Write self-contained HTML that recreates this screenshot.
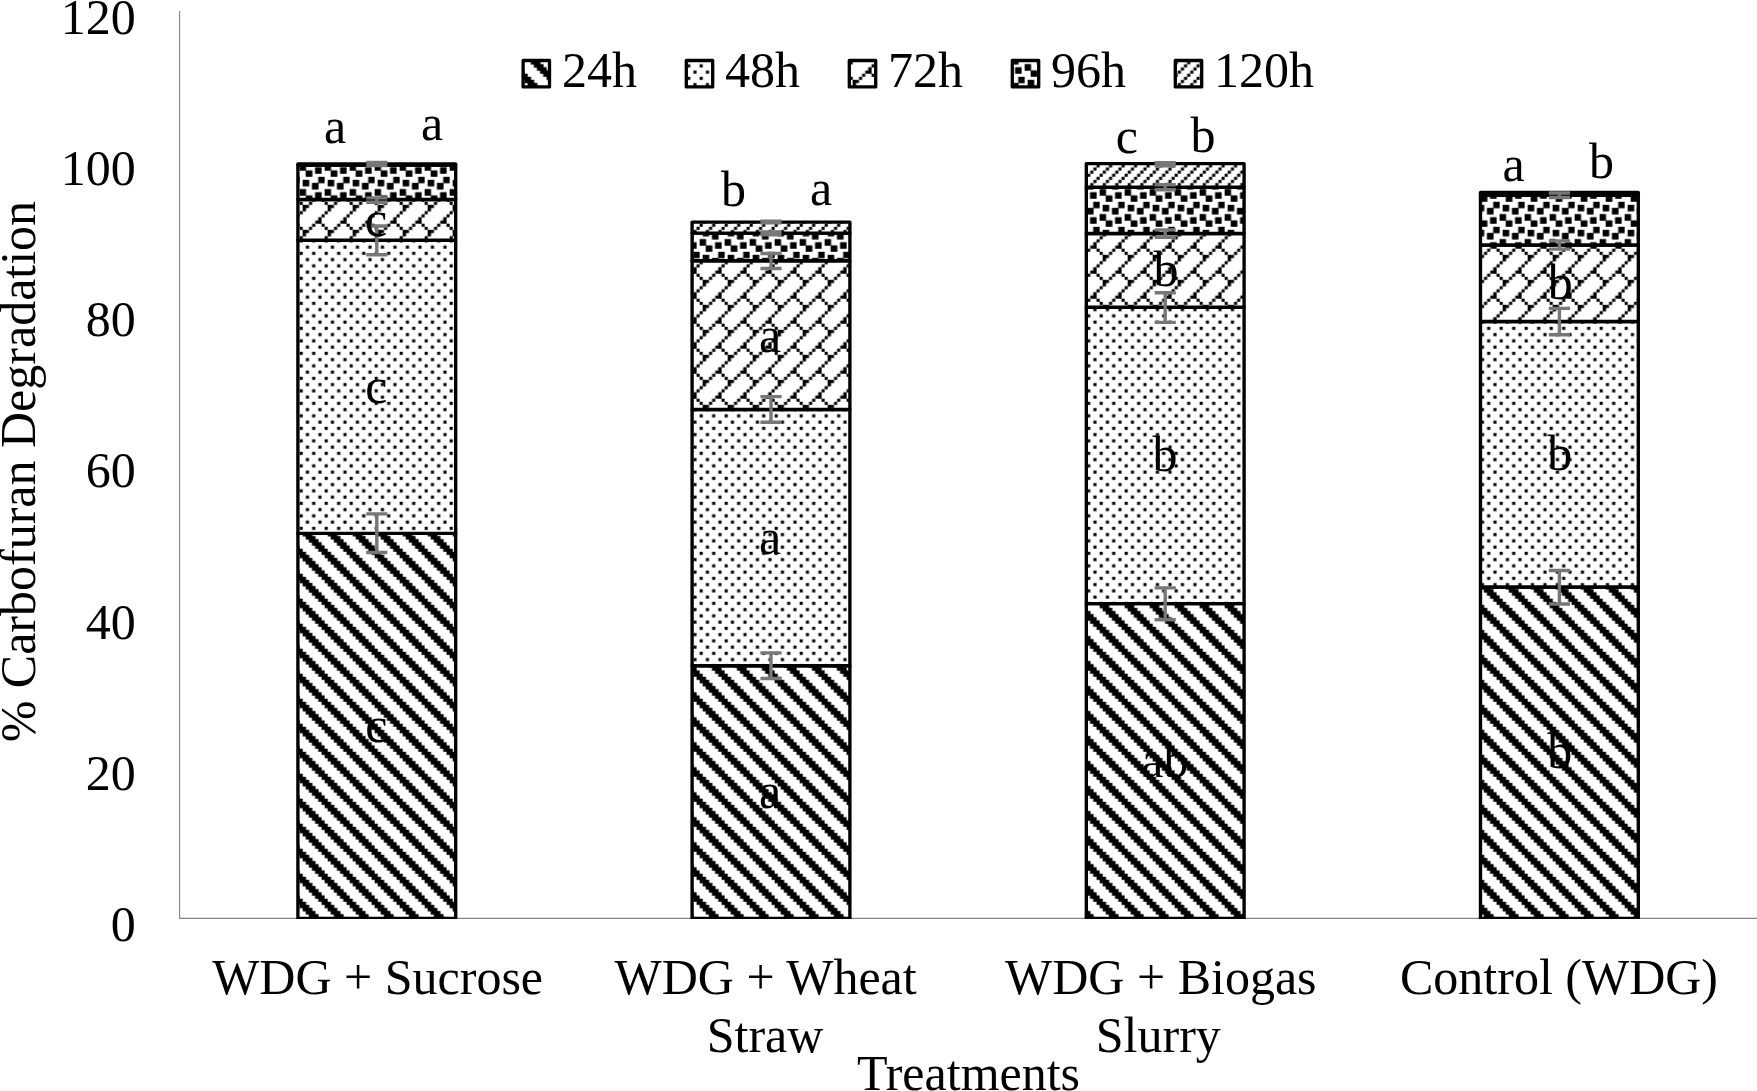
<!DOCTYPE html>
<html><head><meta charset="utf-8"><title>Carbofuran Degradation</title>
<style>html,body{margin:0;padding:0;background:#fff}body{width:1757px;height:1091px;overflow:hidden}svg{display:block}text{font-family:"Liberation Serif",serif;font-size:50px;fill:#000}</style>
</head><body>
<svg width="1757" height="1091" viewBox="0 0 1757 1091">
<defs>
<pattern id="p24" patternUnits="userSpaceOnUse" x="-0.35" y="1.8" width="25" height="25"><rect width="25" height="25" fill="#fff"/><g fill="#000"><rect x="0" y="0" width="6.25" height="3.125"/><rect x="21.875" y="0" width="3.125" height="3.125"/><rect x="0" y="3.125" width="9.375" height="3.125"/><rect x="3.125" y="6.25" width="9.375" height="3.125"/><rect x="6.25" y="9.375" width="9.375" height="3.125"/><rect x="9.375" y="12.5" width="9.375" height="3.125"/><rect x="12.5" y="15.625" width="9.375" height="3.125"/><rect x="15.625" y="18.75" width="9.375" height="3.125"/><rect x="0" y="21.875" width="3.125" height="3.125"/><rect x="18.75" y="21.875" width="6.25" height="3.125"/><rect x="0" y="0" width="3.125" height="6.25"/><rect x="3.125" y="0" width="3.125" height="9.375"/><rect x="6.25" y="3.125" width="3.125" height="9.375"/><rect x="9.375" y="6.25" width="3.125" height="9.375"/><rect x="12.5" y="9.375" width="3.125" height="9.375"/><rect x="15.625" y="12.5" width="3.125" height="9.375"/><rect x="18.75" y="15.625" width="3.125" height="9.375"/><rect x="21.875" y="18.75" width="3.125" height="6.25"/></g></pattern>
<pattern id="p48" patternUnits="userSpaceOnUse" x="-0.35" y="1.8" width="25" height="25"><rect width="25" height="25" fill="#fff"/><g fill="#000"><rect x="0" y="0" width="3.125" height="3.125"/><rect x="12.5" y="0" width="3.125" height="3.125"/><rect x="6.25" y="6.25" width="3.125" height="3.125"/><rect x="18.75" y="6.25" width="3.125" height="3.125"/><rect x="0" y="12.5" width="3.125" height="3.125"/><rect x="12.5" y="12.5" width="3.125" height="3.125"/><rect x="6.25" y="18.75" width="3.125" height="3.125"/><rect x="18.75" y="18.75" width="3.125" height="3.125"/></g></pattern>
<pattern id="p72" patternUnits="userSpaceOnUse" x="-0.35" y="1.8" width="25" height="25"><rect width="25" height="25" fill="#fff"/><g fill="#000"><rect x="0" y="0" width="3.125" height="3.125"/><rect x="9.375" y="0" width="3.125" height="3.125"/><rect x="3.125" y="3.125" width="6.25" height="3.125"/><rect x="3.125" y="6.25" width="3.125" height="3.125"/><rect x="0" y="9.375" width="3.125" height="3.125"/><rect x="21.875" y="12.5" width="3.125" height="3.125"/><rect x="18.75" y="15.625" width="3.125" height="3.125"/><rect x="15.625" y="18.75" width="6.25" height="3.125"/><rect x="12.5" y="21.875" width="3.125" height="3.125"/><rect x="21.875" y="21.875" width="3.125" height="3.125"/><rect x="3.125" y="3.125" width="3.125" height="6.25"/><rect x="18.75" y="15.625" width="3.125" height="6.25"/></g></pattern>
<pattern id="p96" patternUnits="userSpaceOnUse" x="-0.35" y="1.8" width="25" height="25"><rect width="25" height="25" fill="#fff"/><g fill="#000"><rect x="18.75" y="0" width="6.25" height="3.125"/><rect x="3.125" y="3.125" width="6.25" height="3.125"/><rect x="18.75" y="3.125" width="6.25" height="3.125"/><rect x="3.125" y="6.25" width="6.25" height="3.125"/><rect x="12.5" y="6.25" width="6.25" height="3.125"/><rect x="12.5" y="9.375" width="6.25" height="3.125"/><rect x="0" y="12.5" width="6.25" height="3.125"/><rect x="0" y="15.625" width="6.25" height="3.125"/><rect x="15.625" y="15.625" width="6.25" height="3.125"/><rect x="6.25" y="18.75" width="6.25" height="3.125"/><rect x="15.625" y="18.75" width="6.25" height="3.125"/><rect x="6.25" y="21.875" width="6.25" height="3.125"/><rect x="0" y="12.5" width="3.125" height="6.25"/><rect x="3.125" y="3.125" width="3.125" height="6.25"/><rect x="3.125" y="12.5" width="3.125" height="6.25"/><rect x="6.25" y="3.125" width="3.125" height="6.25"/><rect x="6.25" y="18.75" width="3.125" height="6.25"/><rect x="9.375" y="18.75" width="3.125" height="6.25"/><rect x="12.5" y="6.25" width="3.125" height="6.25"/><rect x="15.625" y="6.25" width="3.125" height="6.25"/><rect x="15.625" y="15.625" width="3.125" height="6.25"/><rect x="18.75" y="0" width="3.125" height="6.25"/><rect x="18.75" y="15.625" width="3.125" height="6.25"/><rect x="21.875" y="0" width="3.125" height="6.25"/></g></pattern>
<pattern id="p120" patternUnits="userSpaceOnUse" x="-0.35" y="1.8" width="25" height="25"><rect width="25" height="25" fill="#fff"/><g fill="#000"><rect x="9.375" y="0" width="3.125" height="3.125"/><rect x="21.875" y="0" width="3.125" height="3.125"/><rect x="6.25" y="3.125" width="3.125" height="3.125"/><rect x="18.75" y="3.125" width="3.125" height="3.125"/><rect x="3.125" y="6.25" width="3.125" height="3.125"/><rect x="15.625" y="6.25" width="3.125" height="3.125"/><rect x="0" y="9.375" width="3.125" height="3.125"/><rect x="12.5" y="9.375" width="3.125" height="3.125"/><rect x="9.375" y="12.5" width="3.125" height="3.125"/><rect x="21.875" y="12.5" width="3.125" height="3.125"/><rect x="6.25" y="15.625" width="3.125" height="3.125"/><rect x="18.75" y="15.625" width="3.125" height="3.125"/><rect x="3.125" y="18.75" width="3.125" height="3.125"/><rect x="15.625" y="18.75" width="3.125" height="3.125"/><rect x="0" y="21.875" width="3.125" height="3.125"/><rect x="12.5" y="21.875" width="3.125" height="3.125"/></g></pattern>
</defs>
<rect width="1757" height="1091" fill="#fff"/>
<line x1="179.6" y1="10.9" x2="179.6" y2="918.9" stroke="#858585" stroke-width="1.1"/>
<line x1="179.1" y1="918.4" x2="1757" y2="918.4" stroke="#858585" stroke-width="1.1"/>
<clipPath id="plot"><rect x="0" y="0" width="1757" height="918.9"/></clipPath>
<g clip-path="url(#plot)" stroke="#000" stroke-width="3.35" stroke-linejoin="round"><rect x="297.90" y="533.40" width="157.80" height="385.00" fill="url(#p24)"/><rect x="297.90" y="240.20" width="157.80" height="293.20" fill="url(#p48)"/><rect x="297.90" y="199.50" width="157.80" height="40.70" fill="url(#p72)"/><rect x="297.90" y="165.00" width="157.80" height="34.50" fill="url(#p96)"/><rect x="297.90" y="164.00" width="157.80" height="1.00" fill="url(#p120)"/></g>
<g clip-path="url(#plot)" stroke="#000" stroke-width="3.35" stroke-linejoin="round"><rect x="692.10" y="665.70" width="157.80" height="252.70" fill="url(#p24)"/><rect x="692.10" y="409.50" width="157.80" height="256.20" fill="url(#p48)"/><rect x="692.10" y="260.70" width="157.80" height="148.80" fill="url(#p72)"/><rect x="692.10" y="233.10" width="157.80" height="27.60" fill="url(#p96)"/><rect x="692.10" y="222.15" width="157.80" height="10.95" fill="url(#p120)"/></g>
<g clip-path="url(#plot)" stroke="#000" stroke-width="3.35" stroke-linejoin="round"><rect x="1086.30" y="603.60" width="157.80" height="314.80" fill="url(#p24)"/><rect x="1086.30" y="307.20" width="157.80" height="296.40" fill="url(#p48)"/><rect x="1086.30" y="233.50" width="157.80" height="73.70" fill="url(#p72)"/><rect x="1086.30" y="187.20" width="157.80" height="46.30" fill="url(#p96)"/><rect x="1086.30" y="163.60" width="157.80" height="23.60" fill="url(#p120)"/></g>
<g clip-path="url(#plot)" stroke="#000" stroke-width="3.35" stroke-linejoin="round"><rect x="1480.50" y="587.00" width="157.80" height="331.40" fill="url(#p24)"/><rect x="1480.50" y="321.50" width="157.80" height="265.50" fill="url(#p48)"/><rect x="1480.50" y="245.00" width="157.80" height="76.50" fill="url(#p72)"/><rect x="1480.50" y="195.30" width="157.80" height="49.70" fill="url(#p96)"/><rect x="1480.50" y="192.30" width="157.80" height="3.00" fill="url(#p120)"/></g>
<g stroke="#777777" stroke-width="3.4" fill="none"><path d="M366.20 513.85H387.40M366.20 552.50H387.40M376.80 513.85V552.50"/><path d="M366.20 226.00H387.40M366.20 254.80H387.40M376.80 226.00V254.80"/><path d="M366.20 197.90H387.40M366.20 202.30H387.40M376.80 197.90V202.30"/><path d="M366.20 162.50H387.40M366.20 165.50H387.40M376.80 162.50V165.50"/></g>
<g stroke="#777777" stroke-width="3.4" fill="none"><path d="M760.40 652.90H781.60M760.40 678.50H781.60M771.00 652.90V678.50"/><path d="M760.40 396.60H781.60M760.40 422.25H781.60M771.00 396.60V422.25"/><path d="M760.40 253.50H781.60M760.40 268.50H781.60M771.00 253.50V268.50"/><path d="M760.40 232.00H781.60M760.40 234.80H781.60M771.00 232.00V234.80"/><path d="M760.40 221.20H781.60M760.40 222.90H781.60M771.00 221.20V222.90"/></g>
<g stroke="#777777" stroke-width="3.4" fill="none"><path d="M1154.60 587.90H1175.80M1154.60 619.80H1175.80M1165.20 587.90V619.80"/><path d="M1154.60 292.75H1175.80M1154.60 322.40H1175.80M1165.20 292.75V322.40"/><path d="M1154.60 229.90H1175.80M1154.60 237.40H1175.80M1165.20 229.90V237.40"/><path d="M1154.60 184.80H1175.80M1154.60 189.70H1175.80M1165.20 184.80V189.70"/><path d="M1154.60 162.80H1175.80M1154.60 165.90H1175.80M1165.20 162.80V165.90"/></g>
<g stroke="#777777" stroke-width="3.4" fill="none"><path d="M1548.80 570.50H1570.00M1548.80 604.00H1570.00M1559.40 570.50V604.00"/><path d="M1548.80 308.40H1570.00M1548.80 334.80H1570.00M1559.40 308.40V334.80"/><path d="M1548.80 240.90H1570.00M1548.80 249.10H1570.00M1559.40 240.90V249.10"/><path d="M1548.80 193.00H1570.00M1548.80 197.50H1570.00M1559.40 193.00V197.50"/></g>
<rect x="523.10" y="60.50" width="26.4" height="26.4" fill="url(#p24)" stroke="#000" stroke-width="3.3" stroke-linejoin="round"/>
<text x="562.1" y="86.7">24h</text>
<rect x="686.30" y="60.50" width="26.4" height="26.4" fill="url(#p48)" stroke="#000" stroke-width="3.3" stroke-linejoin="round"/>
<text x="725.1" y="86.7">48h</text>
<rect x="849.30" y="60.50" width="26.4" height="26.4" fill="url(#p72)" stroke="#000" stroke-width="3.3" stroke-linejoin="round"/>
<text x="888.1" y="86.7">72h</text>
<rect x="1012.30" y="60.50" width="26.4" height="26.4" fill="url(#p96)" stroke="#000" stroke-width="3.3" stroke-linejoin="round"/>
<text x="1051.1" y="86.7">96h</text>
<rect x="1175.30" y="60.50" width="26.4" height="26.4" fill="url(#p120)" stroke="#000" stroke-width="3.3" stroke-linejoin="round"/>
<text x="1214.1" y="86.7">120h</text>
<text x="135.8" y="941.20" text-anchor="end">0</text>
<text x="135.8" y="789.95" text-anchor="end">20</text>
<text x="135.8" y="638.70" text-anchor="end">40</text>
<text x="135.8" y="487.45" text-anchor="end">60</text>
<text x="135.8" y="336.20" text-anchor="end">80</text>
<text x="135.8" y="184.95" text-anchor="end">100</text>
<text x="135.8" y="33.70" text-anchor="end">120</text>
<text transform="translate(34.7 471.6) rotate(-90)" text-anchor="middle">% Carbofuran Degradation</text>
<text x="377.60" y="994.20" text-anchor="middle">WDG + Sucrose</text>
<text x="765.60" y="994.20" text-anchor="middle">WDG + Wheat</text>
<text x="765.10" y="1051.80" text-anchor="middle">Straw</text>
<text x="1160.80" y="994.20" text-anchor="middle">WDG + Biogas</text>
<text x="1158.30" y="1051.80" text-anchor="middle">Slurry</text>
<text x="1559.00" y="994.20" text-anchor="middle">Control (WDG)</text>
<text x="968.5" y="1089.8" text-anchor="middle">Treatments</text>
<text x="335.2" y="143.4" text-anchor="middle">a</text>
<text x="432" y="139.7" text-anchor="middle">a</text>
<text x="376.2" y="235.8" text-anchor="middle">c</text>
<text x="376.3" y="402.7" text-anchor="middle">c</text>
<text x="376.3" y="741.7" text-anchor="middle">c</text>
<text x="733.6" y="206" text-anchor="middle">b</text>
<text x="821" y="204.6" text-anchor="middle">a</text>
<text x="770.2" y="351.6" text-anchor="middle">a</text>
<text x="770.2" y="553.7" text-anchor="middle">a</text>
<text x="770.2" y="808.4" text-anchor="middle">a</text>
<text x="1126.8" y="153.4" text-anchor="middle">c</text>
<text x="1203" y="151.7" text-anchor="middle">b</text>
<text x="1166" y="286.2" text-anchor="middle">b</text>
<text x="1165" y="471.2" text-anchor="middle">b</text>
<text x="1164.9" y="777.3" text-anchor="middle">ab</text>
<text x="1513.7" y="180.75" text-anchor="middle">a</text>
<text x="1601.4" y="177.6" text-anchor="middle">b</text>
<text x="1560.2" y="299.1" text-anchor="middle">b</text>
<text x="1559.7" y="470.3" text-anchor="middle">b</text>
<text x="1559.7" y="768.4" text-anchor="middle">b</text>
</svg>
</body></html>
